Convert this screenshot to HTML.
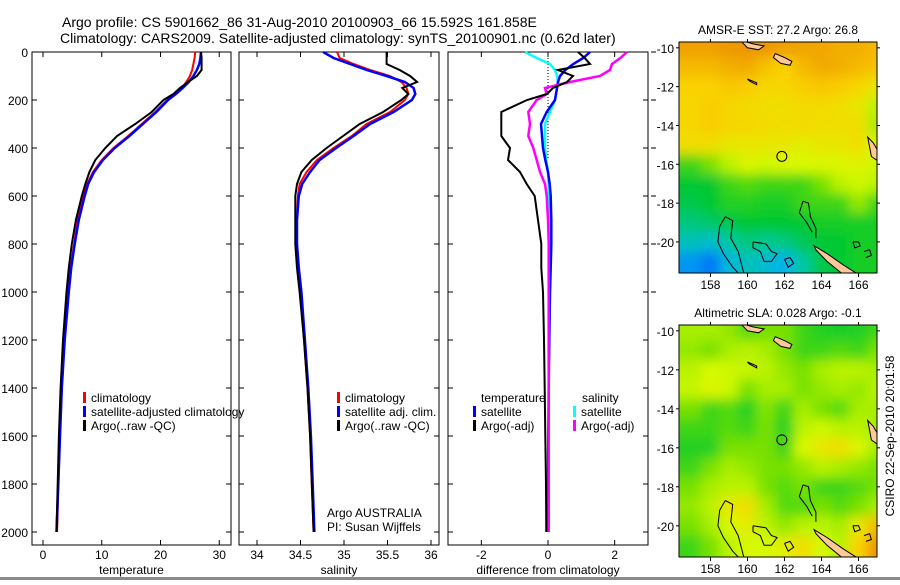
<!DOCTYPE html>
<html><head><meta charset="utf-8"><style>
html,body{margin:0;padding:0;background:#fff;}
svg text{font-family:"Liberation Sans",sans-serif;fill:#000;}
</style></head><body>
<svg id="fig" xmlns="http://www.w3.org/2000/svg" width="900" height="580" viewBox="0 0 900 580">
<defs>
<filter id="blur1" x="-5%" y="-5%" width="110%" height="110%"><feGaussianBlur stdDeviation="6"/></filter>
<clipPath id="clipM1"><rect x="679" y="42" width="198" height="231"/></clipPath>
<clipPath id="clipM2"><rect x="679" y="325" width="198" height="232"/></clipPath>
</defs>
<rect x="0" y="0" width="900" height="580" fill="#fff"/>
<text x="62" y="27" font-size="14">Argo profile: CS 5901662_86 31-Aug-2010 20100903_66 15.592S 161.858E</text>
<text x="60" y="43" font-size="14">Climatology: CARS2009. Satellite-adjusted climatology: synTS_20100901.nc (0.62d later)</text>
<g id="panels"></g>
<g id="maps"></g>
<text transform="translate(894,436) rotate(-90)" text-anchor="middle" font-size="12">CSIRO 22-Sep-2010 20:01:58</text>
<rect x="0" y="577" width="900" height="3" fill="#8a8a8a"/>
</svg>
<script>
// ---------- data ----------
const depths = [0,25,50,75,100,125,150,175,200,250,300,350,400,450,500,550,600,700,800,900,1000,1200,1400,1600,1800,2000];
const tempArgo = [26.9,27.0,27.0,27.0,26.2,24.7,23.3,22.2,20.5,18.5,15.7,12.6,10.6,8.9,7.9,7.2,6.6,5.6,4.9,4.4,4.0,3.4,3.0,2.7,2.5,2.3];
const tempClim = [25.9,25.8,25.6,25.4,25.0,24.4,23.7,22.5,21.1,19.1,16.8,14.5,12.0,10.0,8.5,7.5,6.9,5.9,5.3,4.7,4.3,3.7,3.2,2.9,2.6,2.4];
const tempSat  = [26.9,26.8,26.6,26.2,25.6,24.8,23.8,22.6,21.3,19.3,17.0,14.7,12.2,10.2,8.7,7.7,7.1,6.1,5.4,4.8,4.4,3.7,3.2,2.9,2.6,2.3];
const salArgo = [35.49,35.49,35.49,35.64,35.76,35.84,35.67,35.74,35.66,35.45,35.18,34.99,34.80,34.63,34.51,34.46,34.44,34.44,34.44,34.46,34.49,34.54,34.58,34.61,34.63,34.65];
const salClim = [34.92,34.95,35.11,35.30,35.53,35.66,35.72,35.74,35.70,35.53,35.26,35.09,34.88,34.69,34.57,34.49,34.47,34.46,34.46,34.48,34.50,34.54,34.58,34.61,34.63,34.65];
const salSat  = [34.76,34.88,35.07,35.26,35.49,35.70,35.80,35.82,35.78,35.57,35.30,35.11,34.91,34.72,34.61,34.52,34.48,34.46,34.46,34.48,34.51,34.55,34.59,34.62,34.64,34.66];
const diffTempArgo = [0.9,1.1,1.26,0.3,0.75,0.57,0.15,-0.03,-0.63,-1.4,-1.4,-1.4,-1.14,-1.2,-0.84,-0.64,-0.4,-0.3,-0.2,-0.2,-0.15,-0.12,-0.1,-0.08,-0.06,-0.05];
const diffTempSat  = [1.26,1.06,0.76,0.52,0.36,0.3,0.27,0.24,0.21,-0.04,-0.21,-0.18,-0.15,-0.08,0.0,0.05,0.08,0.1,0.1,0.08,0.06,0.04,0.02,0.01,0.0,0.0];
const diffSalArgo  = [2.37,2.17,1.92,1.86,1.56,0.66,-0.09,-0.04,-0.34,-0.59,-0.54,-0.59,-0.44,-0.34,-0.24,-0.09,-0.04,0.0,0.02,0.02,0.02,0.02,0.02,0.02,0.02,0.02];
const diffSalSat   = [-0.69,-0.34,0.06,0.21,0.27,0.3,0.27,0.24,0.21,0.06,-0.09,-0.09,-0.09,-0.05,0.0,0.02,0.02,0.02,0.02,0.02,0.02,0.02,0.02,0.02,0.02,0.02];
const depthTicks = [0,200,400,600,800,1000,1200,1400,1600,1800,2000];
const tempTicks = [0,10,20,30];
const salTicks = [34,34.5,35,35.5,36];
const diffTicks = [-2,0,2];
const mapLonTicks = [158,160,162,164,166];
const mapLatTicks = [-10,-12,-14,-16,-18,-20];
const gridLons = [157,158,159,160,161,162,163,164,165,166,167];
const gridLats = [-10,-11,-12,-13,-14,-15,-16,-17,-18,-19,-20,-21];
const sstGrid = [
[.85,.85,.87,.88,.87,.85,.84,.84,.82,.82,.8],
[.8,.8,.82,.83,.78,.75,.8,.83,.82,.8,.78],
[.75,.75,.77,.76,.74,.74,.76,.77,.76,.74,.7],
[.74,.76,.74,.73,.72,.72,.73,.73,.72,.7,.62],
[.74,.76,.74,.74,.73,.72,.73,.72,.72,.72,.6],
[.72,.72,.7,.7,.7,.7,.68,.7,.7,.72,.66],
[.5,.55,.62,.66,.64,.66,.65,.66,.66,.67,.64],
[.45,.45,.5,.52,.5,.5,.5,.55,.62,.64,.62],
[.42,.45,.48,.48,.47,.47,.5,.5,.5,.58,.5],
[.35,.38,.42,.45,.45,.45,.45,.47,.47,.47,.47],
[.25,.22,.3,.35,.32,.35,.4,.45,.45,.47,.47],
[.1,.05,.18,.25,.2,.15,.3,.42,.45,.47,.47]];
const slaGrid = [
[.6,.6,.58,.52,.55,.55,.5,.48,.47,.48,.5],
[.58,.55,.6,.62,.6,.55,.5,.5,.52,.5,.55],
[.62,.65,.64,.63,.62,.58,.55,.6,.62,.62,.6],
[.63,.66,.64,.55,.6,.6,.55,.58,.6,.58,.62],
[.55,.5,.52,.48,.56,.5,.6,.55,.52,.6,.6],
[.5,.5,.52,.5,.55,.48,.62,.64,.62,.62,.6],
[.48,.48,.55,.55,.55,.5,.65,.7,.72,.66,.6],
[.5,.55,.6,.58,.55,.55,.58,.62,.6,.58,.55],
[.55,.6,.62,.62,.55,.52,.55,.5,.5,.52,.55],
[.58,.62,.7,.72,.6,.52,.52,.55,.52,.55,.6],
[.55,.6,.65,.68,.62,.58,.62,.62,.6,.7,.8],
[.5,.55,.62,.65,.65,.68,.72,.65,.62,.75,.88]];
const argoLon = 161.858, argoLat = -15.592;

// ---------- helpers ----------
const NS="http://www.w3.org/2000/svg";
function mk(tag, attrs, parent){const e=document.createElementNS(NS,tag);for(const k in attrs)e.setAttribute(k,attrs[k]);parent.appendChild(e);return e;}
const panelsG=document.getElementById('panels');
const yTop=52, yPerM=0.24, yBot=545;
const yScale = d => yTop + d*yPerM;

function panel(name, x0, x1, vmin, vmax, ticks, label, showDepthLabels){
  const xs = v => x0 + (v-vmin)/(vmax-vmin)*(x1-x0);
  const g=mk('g',{},panelsG);
  
  
  const fr=mk('rect',{x:x0,y:yTop,width:x1-x0,height:yBot-yTop,fill:'none',stroke:'#000','stroke-width':1},g);
  
  
  depthTicks.forEach(d=>{
    const y=yScale(d);
    mk('line',{x1:x0,x2:x0+5,y1:y,y2:y,stroke:'#000'},g);
    mk('line',{x1:x1,x2:x1-5,y1:y,y2:y,stroke:'#000'},g);
    if(showDepthLabels){
      const t=mk('text',{x:x0-4,y:y+5,'text-anchor':'end','font-size':12},g);
      
      
      t.textContent=d;
    }
  });
  ticks.forEach(v=>{
    const x=xs(v);
    mk('line',{x1:x,x2:x,y1:yBot,y2:yBot-5,stroke:'#000'},g);
    mk('line',{x1:x,x2:x,y1:yTop,y2:yTop+5,stroke:'#000'},g);
    const t=mk('text',{x:x,y:yBot+14,'text-anchor':'middle','font-size':12},g);
    
    
    t.textContent=v;
  });
  const lt=mk('text',{x:(x0+x1)/2,y:yBot+29,'text-anchor':'middle','font-size':12},g);
  
  
  lt.textContent=label;
  return {g,xs};
}
function line(p, vals, color, w, name){
  const pts=vals.map((v,i)=>p.xs(v).toFixed(1)+','+yScale(depths[i]).toFixed(1)).join(' ');
  const l=mk('polyline',{points:pts,fill:'none',stroke:color,'stroke-width':w,'stroke-linejoin':'miter'},p.g);
  
  
}
function legend(g, x, y, color, text, name){
  const r=mk('rect',{x:x,y:y-10,width:3,height:11,fill:color},g);
  const t=mk('text',{x:x+8,y:y,'font-size':12},g);
  
  
  t.textContent=text;
}

// panel 1 temperature
const p1=panel('temperature-panel',32,231,-1.87,32.0,tempTicks,'temperature',true);
line(p1,tempClim,'#ff0000',2,'temp-climatology-line');
line(p1,tempSat,'#0000ff',2.5,'temp-satellite-line');
line(p1,tempArgo,'#000000',2,'temp-argo-line');
legend(p1.g,83,402,'#ff0000','climatology','legend-climatology');
legend(p1.g,83,416,'#0000ff','satellite-adjusted climatology','legend-satellite-adjusted');
legend(p1.g,83,430,'#000000','Argo(..raw -QC)','legend-argo');
// panel 2 salinity
const p2=panel('salinity-panel',239,439,33.793,36.092,salTicks,'salinity',false);
line(p2,salClim,'#ff0000',2,'sal-climatology-line');
line(p2,salSat,'#0000ff',2.5,'sal-satellite-line');
line(p2,salArgo,'#000000',2,'sal-argo-line');
legend(p2.g,337,402,'#ff0000','climatology','legend-climatology');
legend(p2.g,337,416,'#0000ff','satellite adj. clim.','legend-satellite');
legend(p2.g,337,430,'#000000','Argo(..raw -QC)','legend-argo');
const at1=mk('text',{x:327,y:517,'font-size':12},p2.g);at1.textContent='Argo AUSTRALIA';


const at2=mk('text',{x:327,y:531,'font-size':12},p2.g);at2.textContent='PI: Susan Wijffels';


// panel 3 difference
const p3=panel('difference-panel',448,648,-3.0,3.0,diffTicks,'difference from climatology',false);
const zl=mk('line',{x1:p3.xs(0),x2:p3.xs(0),y1:yTop,y2:yScale(450),stroke:'#000','stroke-dasharray':'1,2'},p3.g);


line(p3,diffSalSat,'#00ffff',2.5,'diff-sal-satellite-line');
line(p3,diffTempSat,'#0000ff',2.5,'diff-temp-satellite-line');
line(p3,diffSalArgo,'#ff00ff',2.5,'diff-sal-argo-line');
line(p3,diffTempArgo,'#000000',2,'diff-temp-argo-line');
const lt1=mk('text',{x:481,y:402,'font-size':12},p3.g);lt1.textContent='temperature';


const lt2=mk('text',{x:582,y:402,'font-size':12},p3.g);lt2.textContent='salinity';


legend(p3.g,473,416,'#0000ff','satellite','legend-temp-satellite');
legend(p3.g,473,430,'#000000','Argo(-adj)','legend-temp-argo');
legend(p3.g,573,416,'#00ffff','satellite','legend-sal-satellite');
legend(p3.g,573,430,'#ff00ff','Argo(-adj)','legend-sal-argo');
depthTicks.slice(0,6).forEach(d=>{mk('line',{x1:651,x2:656,y1:yScale(d),y2:yScale(d),stroke:'#000'},panelsG);});

// ---------- maps ----------
const stops=[[0,[0,90,255]],[0.15,[0,180,235]],[0.3,[0,200,160]],[0.45,[0,200,50]],[0.55,[120,225,0]],[0.65,[215,250,0]],[0.75,[250,210,0]],[0.85,[240,160,0]],[1,[220,110,0]]];
function cmap(v){for(let i=1;i<stops.length;i++){if(v<=stops[i][0]){const a=stops[i-1],b=stops[i];const t=(v-a[0])/(b[0]-a[0]);const c=a[1].map((x,k)=>Math.round(x+(b[1][k]-x)*t));return 'rgb('+c.join(',')+')';}}return 'rgb(220,110,0)';}
const mapsG=document.getElementById('maps');
const lonMin=156.3, lonMax=167.0, latMax=-9.7, latMin=-21.6;
const landPolys=[
 [[163.6,-20.2],[164.3,-20.6],[165.2,-21.2],[166.2,-21.8],[166.9,-22.1],[166.2,-22.2],[165.2,-21.7],[164.3,-21.0],[163.7,-20.4]],
 [[166.5,-14.6],[166.8,-14.9],[167.1,-15.4],[167.0,-15.8],[166.7,-15.6],[166.6,-15.1]],
 [[159.6,-9.6],[160.3,-9.8],[160.9,-9.9],[160.6,-10.1],[160.0,-10.0]],
 [[161.5,-10.3],[162.0,-10.5],[162.4,-10.7],[162.3,-10.9],[161.8,-10.8],[161.4,-10.5]],
 [[160.0,-11.6],[160.5,-11.8],[160.5,-11.9],[160.1,-11.7]]
];
const contours=[
 [[158.8,-18.7],[159.2,-18.9],[159.1,-19.8],[159.5,-20.5],[159.8,-21.6]],
 [[158.8,-18.7],[158.5,-19.2],[158.4,-20.0],[158.7,-20.6],[159.2,-21.3],[159.5,-21.6]],
 [[163.0,-17.9],[163.3,-18.0],[163.4,-18.7],[163.7,-19.3],[163.7,-19.8]],
 [[163.0,-17.9],[162.8,-18.5],[163.2,-19.0],[163.5,-19.5]],
 [[160.3,-20.0],[161.0,-20.1],[161.3,-20.5],[161.6,-20.6],[161.3,-21.0],[160.9,-21.0],[160.7,-20.5],[160.3,-20.3],[160.3,-20.0]],
 [[162.0,-20.9],[162.3,-20.8],[162.5,-21.1],[162.2,-21.3],[162.0,-20.9]],
 [[165.7,-20.0],[166.0,-20.0],[166.1,-20.2],[165.8,-20.3],[165.7,-20.0]],
 [[166.3,-20.5],[166.6,-20.4],[166.7,-20.7],[166.4,-20.8]]
];
function drawMap(name, x0, y0, w, h, grid, title, clipId){
  const g=mk('g',{},mapsG);
  
  
  const lx=lon=>x0+(lon-lonMin)/(lonMax-lonMin)*w;
  const ly=lat=>y0+(latMax-lat)/(latMax-latMin)*h;
  const cg=mk('g',{'clip-path':'url(#'+clipId+')'},g);
  const bg=mk('g',{filter:'url(#blur1)'},cg);
  const cw=w/(lonMax-lonMin), ch=h/(latMax-latMin);
  grid.forEach((row,r)=>row.forEach((v,c)=>{
    const cell=mk('rect',{x:(lx(gridLons[c])-cw/2-(c===0?30:0)).toFixed(1),y:(ly(gridLats[r])-ch/2-(r===0?30:0)).toFixed(1),width:(cw+1+(c===0||c===row.length-1?30:0)).toFixed(1),height:(ch+1+(r===0||r===grid.length-1?30:0)).toFixed(1),fill:cmap(v)},bg);
    
    
  }));
  landPolys.forEach(p=>{
    const l=mk('polygon',{points:p.map(q=>lx(q[0]).toFixed(1)+','+ly(q[1]).toFixed(1)).join(' '),fill:'#ffc896',stroke:'#000','stroke-width':1},cg);
    
    
  });
  contours.forEach(p=>{
    const l=mk('polyline',{points:p.map(q=>lx(q[0]).toFixed(1)+','+ly(q[1]).toFixed(1)).join(' '),fill:'none',stroke:'#000','stroke-width':1},cg);
    
    
  });
  const c=mk('circle',{cx:lx(argoLon),cy:ly(argoLat),r:5,fill:'none',stroke:'#000','stroke-width':1},g);
  
  
  const fr=mk('rect',{x:x0,y:y0,width:w,height:h,fill:'none',stroke:'#000','stroke-width':1},g);
  
  
  mapLonTicks.forEach(lon=>{
    const x=lx(lon);
    mk('line',{x1:x,x2:x,y1:y0+h,y2:y0+h+4,stroke:'#000'},g);
    mk('line',{x1:x,x2:x,y1:y0,y2:y0-3,stroke:'#000'},g);
    const t=mk('text',{x:x,y:y0+h+16,'text-anchor':'middle','font-size':12},g);
    
    
    t.textContent=lon;
  });
  mapLatTicks.forEach(lat=>{
    const y=ly(lat);
    mk('line',{x1:x0,x2:x0-3,y1:y,y2:y,stroke:'#000'},g);
    mk('line',{x1:x0+w,x2:x0+w+3,y1:y,y2:y,stroke:'#000'},g);
    const t=mk('text',{x:x0-5,y:y+5,'text-anchor':'end','font-size':12},g);
    
    
    t.textContent=lat;
  });
  const tt=mk('text',{x:x0+w/2,y:y0-8,'text-anchor':'middle','font-size':12},g);
  
  
  tt.textContent=title;
}
drawMap('sst-map',679,42,198,231,sstGrid,'AMSR-E SST: 27.2 Argo: 26.8','clipM1');
drawMap('sla-map',679,325,198,232,slaGrid,'Altimetric SLA: 0.028 Argo: -0.1','clipM2');
</script>
</body></html>
